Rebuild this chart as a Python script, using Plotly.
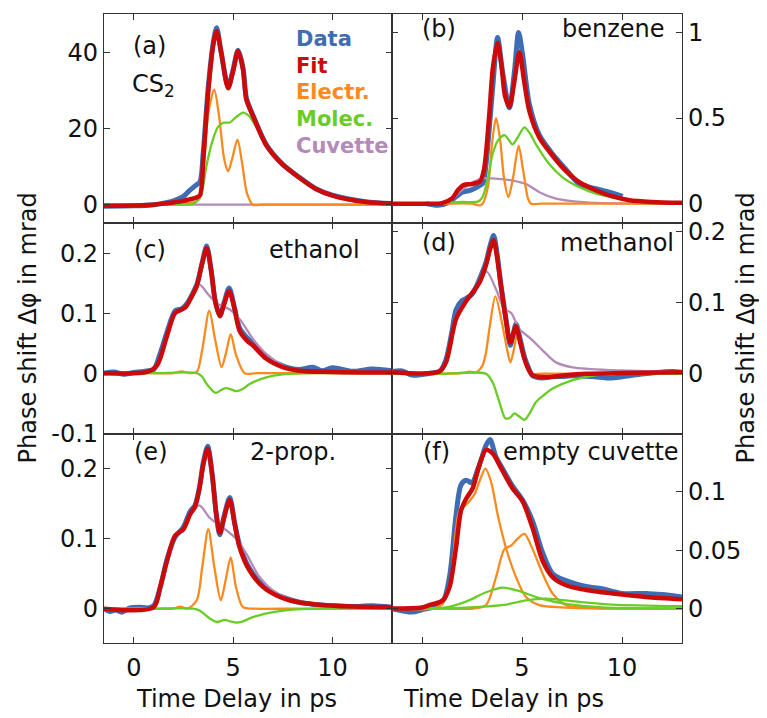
import plotly.graph_objects as go

# ---------------- data ----------------
# (a) CS2
A_DATA_T = [-1.5, 0, 1, 1.5, 2, 2.5, 2.8, 3.1, 3.33, 3.5, 3.75, 4.0, 4.17, 4.4, 4.75, 5.0, 5.25, 5.5, 5.67, 6.0, 6.67, 7.5, 8.33, 9.17, 10, 11.67, 13]
A_DATA = [-0.4, -0.3, 0, 0.4, 1.0, 2.2, 3.7, 5.0, 6.0, 14, 31, 42.5, 46.5, 40, 31, 35.5, 40.6, 36, 28, 23.5, 15.8, 10.6, 7.2, 4.2, 2.5, 0.8, 0.3]
A_FIT_T = [-1.5, 0, 1, 1.5, 2, 2.5, 2.8, 3.1, 3.33, 3.5, 3.75, 4.0, 4.17, 4.4, 4.75, 5.0, 5.25, 5.5, 5.67, 6.0, 6.67, 7.5, 8.33, 9.17, 10, 11.67, 13]
A_FIT = [-0.3, -0.2, 0, 0.3, 0.6, 1.0, 1.4, 1.8, 2.5, 12, 30, 42, 45.6, 40, 30.6, 35, 40.4, 35.5, 27.6, 23.3, 15.6, 10.5, 7.1, 4.1, 2.4, 0.7, 0.3]
A_EL_T = [-1.5, 1, 2, 3, 3.3, 3.5, 3.75, 4.05, 4.3, 4.55, 4.75, 4.95, 5.22, 5.45, 5.7, 6, 6.5, 8, 10, 13]
A_EL = [0, 0.1, 0.4, 0.6, 1.5, 8, 24, 30.2, 23, 12, 8.8, 12, 17.1, 11, 3, 0, 0, 0, 0, 0]
A_MO_T = [-1.5, 2, 3, 3.2, 3.45, 3.67, 4.0, 4.25, 4.5, 4.83, 5.15, 5.5, 5.8, 6.1, 6.6, 7.0, 7.5, 8.3, 9.2, 10, 11, 12, 13]
A_MO = [0, 0, 0.3, 1, 4, 10.5, 17.4, 20.5, 21.5, 21.6, 23, 24.2, 23.3, 21, 16.5, 13.3, 10.4, 7, 4.1, 2.4, 1.1, 0.5, 0.3]
A_CU_T = [-1.5, 13]
A_CU = [0, 0]

# (b) benzene
B_DATA_T = [0.2, 0.8, 1.3, 1.7, 2.0, 2.4, 2.8, 3.05, 3.2, 3.53, 3.78, 4.03, 4.37, 4.62, 4.83, 5.03, 5.37, 5.87, 6.53, 7.2, 7.87, 8.7, 9.53, 10.03]
B_DATA = [0.0, -0.01, 0.005, 0.04, 0.067, 0.077, 0.1, 0.12, 0.23, 0.67, 0.97, 0.77, 0.56, 0.77, 1.0, 0.87, 0.58, 0.40, 0.29, 0.2, 0.115, 0.087, 0.062, 0.042]
B_FIT_T = [-1.5, 0, 1.0, 1.5, 1.8, 2.1, 2.5, 2.9, 3.1, 3.35, 3.55, 3.78, 3.98, 4.15, 4.37, 4.6, 4.87, 5.1, 5.37, 5.87, 6.53, 7.2, 7.87, 8.7, 9.53, 10.37, 11.5, 13]
B_FIT = [0, 0, 0.003, 0.03, 0.08, 0.11, 0.115, 0.13, 0.2, 0.5, 0.8, 0.94, 0.8, 0.63, 0.567, 0.7, 0.885, 0.72, 0.54, 0.385, 0.28, 0.19, 0.125, 0.077, 0.042, 0.02, 0.01, 0.005]
B_EL_T = [-1.5, 1.0, 2.5, 2.85, 3.03, 3.3, 3.5, 3.7, 3.9, 4.1, 4.32, 4.55, 4.83, 5.05, 5.3, 5.45, 6.0, 8, 10, 13]
B_EL = [0, 0, 0, -0.01, 0, 0.1, 0.35, 0.5, 0.38, 0.15, 0.038, 0.15, 0.337, 0.2, 0.03, 0, 0, 0, 0, 0]
B_MO_T = [-1.5, 1, 2, 2.8, 3.03, 3.3, 3.53, 3.8, 4.12, 4.35, 4.53, 4.8, 5.12, 5.4, 5.7, 6.37, 7.03, 7.87, 8.7, 9.87, 11, 13]
B_MO = [0, 0.003, 0.01, 0.012, 0.04, 0.15, 0.29, 0.37, 0.40, 0.37, 0.346, 0.39, 0.446, 0.41, 0.346, 0.23, 0.154, 0.096, 0.058, 0.029, 0.015, 0.005]
B_CU_T = [-1.5, 1.0, 1.37, 1.87, 2.53, 3.03, 3.8, 4.53, 5.2, 5.87, 6.7, 7.87, 9, 13]
B_CU = [0, 0, 0.01, 0.067, 0.125, 0.148, 0.145, 0.135, 0.115, 0.067, 0.029, 0.01, 0.003, 0]

# (c) ethanol
C_DATA_T = [-1.5, -1, -0.5, 0, 0.5, 1.0, 1.3, 1.67, 2.08, 2.4, 2.7, 3.0, 3.2, 3.45, 3.67, 3.9, 4.1, 4.33, 4.55, 4.8, 5.05, 5.33, 5.67, 6.0, 6.67, 7.5, 8.3, 9, 9.5, 10, 11, 12, 13]
C_DATA = [0, 0.002, -0.002, 0.001, 0.003, 0.006, 0.03, 0.068, 0.104, 0.107, 0.117, 0.135, 0.15, 0.185, 0.212, 0.17, 0.12, 0.096, 0.118, 0.142, 0.112, 0.075, 0.06, 0.05, 0.027, 0.012, 0.006, 0.01, 0.004, 0.009, 0.003, 0.007, 0.004]
C_FIT_T = [-1.5, 0.67, 1.17, 1.67, 2.08, 2.58, 2.92, 3.17, 3.42, 3.67, 3.9, 4.1, 4.33, 4.55, 4.8, 5.05, 5.33, 5.67, 6.0, 6.67, 7.5, 8.3, 10, 13]
C_FIT = [0, 0.002, 0.013, 0.062, 0.1, 0.109, 0.128, 0.145, 0.18, 0.208, 0.17, 0.12, 0.095, 0.115, 0.137, 0.11, 0.07, 0.055, 0.046, 0.024, 0.01, 0.004, 0.002, 0.001]
C_EL_T = [-1.5, 1.0, 2.0, 2.4, 2.8, 3.17, 3.45, 3.8, 4.1, 4.42, 4.65, 4.88, 5.15, 5.58, 6.2, 8, 10, 13]
C_EL = [0, 0, 0, 0.003, 0, 0.002, 0.04, 0.104, 0.055, 0.01, 0.035, 0.065, 0.03, 0, 0, 0, 0, 0]
C_MO_T = [-1.5, 1.0, 3.17, 3.45, 3.67, 4.13, 4.4, 4.63, 4.9, 5.17, 5.5, 5.83, 6.67, 7.5, 9, 11, 13]
C_MO = [0, 0, 0, -0.006, -0.018, -0.033, -0.028, -0.025, -0.027, -0.03, -0.026, -0.018, -0.007, -0.002, 0, 0, 0]
C_CU_T = [-1.5, 0.67, 1.17, 1.67, 2.08, 2.58, 2.92, 3.3, 3.75, 4.25, 4.83, 5.33, 6.0, 6.67, 7.5, 8.3, 10, 13]
C_CU = [0, 0.002, 0.013, 0.062, 0.1, 0.109, 0.128, 0.148, 0.131, 0.115, 0.106, 0.09, 0.057, 0.032, 0.013, 0.005, 0.002, 0]

# (d) methanol
D_DATA_T = [-1.5, -1, -0.5, 0, 0.5, 0.9, 1.2, 1.5, 1.7, 2.0, 2.2, 2.5, 2.7, 2.9, 3.2, 3.4, 3.58, 3.75, 3.95, 4.2, 4.42, 4.7, 4.9, 5.12, 5.33, 5.53, 6.0, 6.5, 7.0, 7.5, 8.5, 9.5, 10.5, 11.5, 12.5, 13]
D_DATA = [0.003, 0.004, -0.002, -0.001, 0.001, 0.004, 0.02, 0.06, 0.09, 0.103, 0.106, 0.112, 0.122, 0.135, 0.157, 0.18, 0.195, 0.17, 0.125, 0.077, 0.04, 0.07, 0.05, 0.024, 0.008, -0.003, -0.006, -0.004, -0.004, -0.003, -0.004, -0.006, -0.002, 0.001, 0.003, 0.002]
D_FIT_T = [-1.5, 0.87, 1.2, 1.7, 2.2, 2.7, 2.9, 3.2, 3.4, 3.58, 3.75, 3.95, 4.2, 4.42, 4.7, 4.9, 5.12, 5.33, 5.53, 6.2, 7.2, 8.2, 10, 13]
D_FIT = [0.002, 0.003, 0.016, 0.077, 0.102, 0.121, 0.13, 0.153, 0.175, 0.188, 0.165, 0.123, 0.075, 0.044, 0.067, 0.045, 0.021, 0.006, -0.002, -0.005, -0.002, 0, 0.001, 0.002]
D_EL_T = [-1.5, 1.0, 2.0, 2.37, 2.7, 3.03, 3.2, 3.37, 3.67, 4.03, 4.25, 4.42, 4.6, 4.78, 5.0, 5.2, 5.45, 6.0, 8, 10, 13]
D_EL = [0, 0, 0.001, 0.003, 0.002, 0.012, 0.03, 0.063, 0.109, 0.067, 0.035, 0.016, 0.035, 0.058, 0.035, 0.012, 0, 0, 0, 0, 0]
D_MO_T = [-1.5, 1.0, 3.2, 3.53, 3.87, 4.17, 4.4, 4.62, 4.85, 5.12, 5.4, 5.7, 6.1, 6.53, 7.53, 8.7, 10, 13]
D_MO = [0, 0, 0, -0.012, -0.04, -0.063, -0.062, -0.056, -0.06, -0.065, -0.055, -0.04, -0.03, -0.021, -0.009, -0.002, 0, 0]
D_CU_T = [-1.5, 0.87, 1.2, 1.7, 2.2, 2.7, 3.23, 3.7, 4.12, 4.45, 4.87, 5.45, 6.03, 6.7, 7.53, 9.53, 13]
D_CU = [0.003, 0.003, 0.016, 0.077, 0.102, 0.121, 0.144, 0.119, 0.091, 0.086, 0.063, 0.049, 0.033, 0.016, 0.009, 0.005, 0.003]

# (e) 2-prop.
E_DATA_T = [-1.5, -1.2, -0.9, -0.6, -0.2, 0.3, 0.7, 1.0, 1.33, 1.67, 2.08, 2.5, 2.83, 3.08, 3.3, 3.5, 3.72, 3.95, 4.15, 4.33, 4.55, 4.83, 5.08, 5.33, 5.83, 6.5, 7.17, 7.83, 8.5, 9.17, 10, 11, 12, 13]
E_DATA = [0, -0.004, -0.002, -0.005, 0.001, 0.002, 0.001, 0.004, 0.03, 0.07, 0.102, 0.116, 0.138, 0.147, 0.172, 0.208, 0.231, 0.19, 0.135, 0.105, 0.132, 0.158, 0.122, 0.09, 0.057, 0.033, 0.02, 0.013, 0.008, 0.006, 0.004, 0.003, 0.004, 0.002]
E_FIT_T = [-1.5, 1.0, 1.33, 1.67, 2.08, 2.5, 2.83, 3.08, 3.3, 3.5, 3.72, 3.95, 4.15, 4.33, 4.55, 4.83, 5.08, 5.33, 5.83, 6.5, 7.17, 7.83, 9.17, 11, 13]
E_FIT = [0, 0.002, 0.031, 0.068, 0.104, 0.113, 0.134, 0.145, 0.17, 0.205, 0.228, 0.19, 0.135, 0.108, 0.13, 0.155, 0.12, 0.087, 0.054, 0.031, 0.019, 0.012, 0.006, 0.003, 0.002]
E_EL_T = [-1.5, 1.0, 2.0, 2.33, 2.7, 3.17, 3.45, 3.75, 4.05, 4.38, 4.62, 4.88, 5.15, 5.5, 6.0, 8, 10, 13]
E_EL = [0, 0, 0, 0.003, 0, 0.012, 0.06, 0.113, 0.06, 0.012, 0.04, 0.073, 0.03, 0.002, 0, 0, 0, 0]
E_MO_T = [-1.5, 1.0, 3.0, 3.33, 3.83, 4.17, 4.58, 4.85, 5.17, 5.5, 6.0, 7.0, 8.2, 9.5, 11, 13]
E_MO = [0, 0, 0, -0.003, -0.014, -0.019, -0.016, -0.018, -0.02, -0.018, -0.012, -0.005, -0.001, 0, 0, 0]
E_CU_T = [-1.5, 1.0, 1.33, 1.67, 2.08, 2.5, 2.83, 3.3, 3.83, 4.5, 5.17, 5.67, 6.33, 7.0, 7.83, 9.17, 11, 13]
E_CU = [0, 0.002, 0.031, 0.068, 0.104, 0.113, 0.134, 0.147, 0.129, 0.115, 0.099, 0.078, 0.045, 0.026, 0.014, 0.007, 0.003, 0.002]

# (f) empty cuvette
F_DATA_T = [-1.5, -0.5, 0, 0.5, 0.8, 1.1, 1.4, 1.7, 1.95, 2.2, 2.5, 2.8, 3.0, 3.2, 3.4, 3.7, 4.03, 4.53, 5.03, 5.53, 6.03, 6.53, 7.2, 8.2, 9.0, 10.0, 11.2, 12.0, 13]
F_DATA = [0, -0.003, -0.001, 0.001, 0.004, 0.008, 0.03, 0.08, 0.106, 0.11, 0.108, 0.12, 0.13, 0.14, 0.145, 0.13, 0.12, 0.105, 0.093, 0.075, 0.048, 0.03, 0.024, 0.019, 0.017, 0.013, 0.013, 0.012, 0.01]
F_FIT_T = [-1.5, 0, 0.37, 1.03, 1.37, 1.7, 1.95, 2.2, 2.53, 2.87, 3.2, 3.53, 4.03, 4.53, 5.03, 5.53, 6.03, 6.53, 7.2, 8.2, 9.53, 11.2, 13]
F_FIT = [0, 0.001, 0.003, 0.007, 0.018, 0.052, 0.084, 0.094, 0.103, 0.123, 0.136, 0.133, 0.118, 0.103, 0.092, 0.069, 0.041, 0.027, 0.02, 0.016, 0.013, 0.01, 0.008]
F_EL1_T = [-1.5, 0.5, 1.03, 1.45, 1.87, 2.2, 2.62, 2.87, 3.17, 3.45, 3.78, 4.2, 4.7, 5.2, 5.87, 7, 9, 11, 13]
F_EL1 = [0, 0, 0.004, 0.027, 0.084, 0.089, 0.098, 0.109, 0.12, 0.109, 0.081, 0.052, 0.027, 0.01, 0.003, 0.001, 0, 0, 0]
F_EL2_T = [-1.5, 1.0, 2.5, 3.2, 3.7, 4.12, 4.45, 4.78, 5.12, 5.53, 6.03, 6.53, 7.2, 8, 10, 13]
F_EL2 = [0, 0, 0, 0.003, 0.027, 0.051, 0.054, 0.06, 0.064, 0.051, 0.03, 0.013, 0.003, 0.001, 0, 0]
F_MO1_T = [-1.5, 1.2, 2.2, 3.2, 4.03, 4.87, 5.87, 7.2, 9, 13]
F_MO1 = [0, 0.001, 0.006, 0.014, 0.018, 0.015, 0.009, 0.004, 0.001, 0]
F_MO2_T = [-1.5, 1.0, 2.87, 4.2, 5.2, 6.2, 7.87, 9.53, 13]
F_MO2 = [0, 0, 0.0014, 0.0034, 0.007, 0.0085, 0.0057, 0.0034, 0.002]

X_TICKS = [0, 5, 10]
X_RANGE = [-1.5, 13]
PANEL_LABELS = ["(a)", "(b)", "(c)", "(d)", "(e)", "(f)"]
SAMPLE_NAMES = ["CS<sub>2</sub>", "benzene", "ethanol", "methanol", "2-prop.", "empty cuvette"]
LEGEND_NAMES = ["Data", "Fit", "Electr.", "Molec.", "Cuvette"]
Y_TICKS = [[0, 20, 40], [0, 0.5, 1], [-0.1, 0, 0.1, 0.2], [0, 0.1, 0.2], [0, 0.1, 0.2], [0, 0.05, 0.1]]
Y_TICKTEXT = [["0", "20", "40"], ["0", "0.5", "1"], ["-0.1", "0", "0.1", "0.2"], ["0", "0.1", "0.2"], ["0", "0.1", "0.2"], ["0", "0.05", "0.1"]]
Y_RANGES = [[-4.9, 50.1], [-0.115, 1.108], [-0.1008, 0.2496], [-0.0845, 0.212], [-0.0489, 0.249], [-0.0295, 0.15]]

# ---------------- styling ----------------
C_DATA_COL = "#3e6db3"
C_FIT_COL = "#cc0a0a"
C_EL_COL = "#fb8a1e"
C_MO_COL = "#6acd26"
C_CU_COL = "#b48ab9"
FONT = "DejaVu Sans"

OFF = 8  # page body margin of the html page
W, H = 767 - OFF, 718 - OFF
L, T = 104 - OFF, 1
R = W - (682 - OFF)
B = H - (643 - OFF)
PW, PH = W - L - R, H - T - B


def px(xp):
    # page pixel -> paper x
    return (xp - OFF - L) / PW


def py(yp):
    # page pixel -> paper y
    return (H - B - (yp - OFF)) / PH


panels = [
    [(A_DATA_T, A_DATA, "d"), (A_CU_T, A_CU, "c"), (A_EL_T, A_EL, "e"), (A_MO_T, A_MO, "m"), (A_FIT_T, A_FIT, "f")],
    [(B_DATA_T, B_DATA, "d"), (B_CU_T, B_CU, "c"), (B_EL_T, B_EL, "e"), (B_MO_T, B_MO, "m"), (B_FIT_T, B_FIT, "f")],
    [(C_DATA_T, C_DATA, "d"), (C_CU_T, C_CU, "c"), (C_EL_T, C_EL, "e"), (C_MO_T, C_MO, "m"), (C_FIT_T, C_FIT, "f")],
    [(D_DATA_T, D_DATA, "d"), (D_CU_T, D_CU, "c"), (D_EL_T, D_EL, "e"), (D_MO_T, D_MO, "m"), (D_FIT_T, D_FIT, "f")],
    [(E_DATA_T, E_DATA, "d"), (E_CU_T, E_CU, "c"), (E_EL_T, E_EL, "e"), (E_MO_T, E_MO, "m"), (E_FIT_T, E_FIT, "f")],
    [(F_DATA_T, F_DATA, "d"), (F_EL1_T, F_EL1, "e"), (F_EL2_T, F_EL2, "e"), (F_MO1_T, F_MO1, "m"), (F_MO2_T, F_MO2, "m"), (F_FIT_T, F_FIT, "f")],
]
style = {
    "d": dict(color=C_DATA_COL, width=5),
    "f": dict(color=C_FIT_COL, width=4.5),
    "e": dict(color=C_EL_COL, width=2.3),
    "m": dict(color=C_MO_COL, width=2.3),
    "c": dict(color=C_CU_COL, width=2.3),
}

fig = go.Figure()

col_x = [[0, px(392)], [px(392), 1]]
row_y = [[py(220), 1], [py(432), py(220)], [0, py(432)]]

layout = {}
for i in range(6):
    r, c = divmod(i, 2)
    n = "" if i == 0 else str(i + 1)
    for tt, yy, k in panels[i]:
        fig.add_trace(go.Scatter(x=tt, y=yy, mode="lines", line=dict(shape="spline", smoothing=0.8, **style[k]),
                                 xaxis="x" + n, yaxis="y" + n, showlegend=False, hoverinfo="skip"))
    layout["xaxis" + n] = dict(
        domain=col_x[c], range=X_RANGE, anchor="y" + n, tickvals=X_TICKS,
        ticks="inside", ticklen=6, tickwidth=1.2, tickcolor="#333", showline=True, linecolor="#333", linewidth=1.3,
        mirror="ticks", showgrid=False, zeroline=False, showticklabels=(r == 2),
        tickfont=dict(family=FONT, size=24, color="#111"), ticklabelstandoff=3,
    )
    layout["yaxis" + n] = dict(
        domain=row_y[r], range=Y_RANGES[i], anchor="x" + n, side="left" if c == 0 else "right",
        tickvals=Y_TICKS[i], ticktext=Y_TICKTEXT[i],
        ticks="inside", ticklen=6, tickwidth=1.2, tickcolor="#333", showline=True, linecolor="#333", linewidth=1.3,
        mirror="ticks", showgrid=False, zeroline=False,
        tickfont=dict(family=FONT, size=24, color="#111"), ticklabelstandoff=0,
    )

ann = []
tf = dict(family=FONT, size=24, color="#111")
DY = -3  # small vertical correction for text placement
# panel letters and sample names
lab_pos = [(149, 44), (439, 27), (150, 250), (439, 243), (151, 453), (436, 453)]
for i, (xp, yp) in enumerate(lab_pos):
    ann.append(dict(x=px(xp), y=py(yp + DY), xref="paper", yref="paper", text=PANEL_LABELS[i], showarrow=False,
                    font=tf, xanchor="center", yanchor="middle"))
name_pos = [(130, 84, "left"), (667, 27, "right"), (362, 250, "right"), (676, 243, "right"), (338, 453, "right"), (681, 453, "right")]
for i, (xp, yp, anc) in enumerate(name_pos):
    ann.append(dict(x=px(xp), y=py(yp + DY), xref="paper", yref="paper", text=SAMPLE_NAMES[i], showarrow=False,
                    font=tf, xanchor=anc, yanchor="middle"))
# legend text
leg_cols = [C_DATA_COL, C_FIT_COL, C_EL_COL, C_MO_COL, C_CU_COL]
for j, name in enumerate(LEGEND_NAMES):
    ann.append(dict(x=px(294), y=py(37 + 27 * j + DY), xref="paper", yref="paper", text="<b>%s</b>" % name,
                    showarrow=False, font=dict(family=FONT, size=21, color=leg_cols[j]), xanchor="left", yanchor="middle"))
# axis titles
ytitle = "Phase shift \u0394\u03c6 in mrad"
ann.append(dict(x=px(27), y=py(326), xref="paper", yref="paper", text=ytitle, textangle=-90, showarrow=False,
                font=tf, xanchor="center", yanchor="middle"))
ann.append(dict(x=px(745), y=py(326), xref="paper", yref="paper", text=ytitle, textangle=-90, showarrow=False,
                font=tf, xanchor="center", yanchor="middle"))
for xc in (236, 503):
    ann.append(dict(x=px(xc), y=py(699), xref="paper", yref="paper", text="Time Delay in ps", showarrow=False,
                    font=tf, xanchor="center", yanchor="middle"))

fig.update_layout(
    width=W, height=H, margin=dict(l=L, r=R, t=T, b=B), paper_bgcolor="white", plot_bgcolor="white",
    annotations=ann, showlegend=False, font=dict(family=FONT), **layout,
)
fig.write_html("out.html")
